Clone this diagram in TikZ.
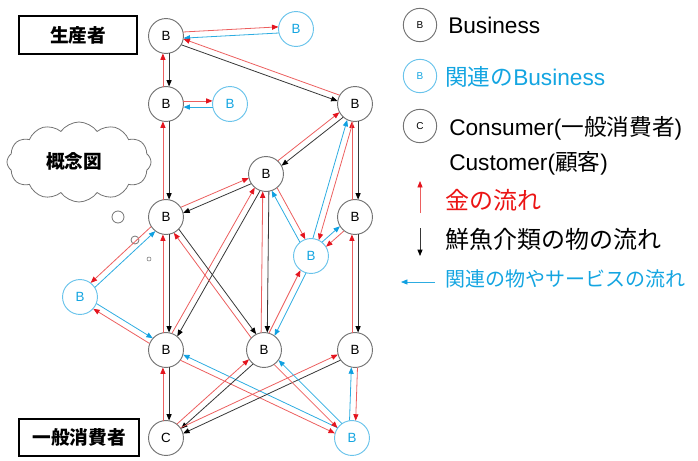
\documentclass[tikz,border=0pt]{standalone}
\usepackage{fontspec}
\setmainfont{Liberation Sans}
\newfontfamily\cjk{Noto Sans CJK JP}
\usetikzlibrary{calc,arrows.meta,shapes.symbols}
\definecolor{lred}{RGB}{236,95,95}
\definecolor{tred}{RGB}{228,20,30}
\definecolor{lcyan}{RGB}{45,172,225}
\definecolor{tcyan}{RGB}{15,160,225}
\definecolor{lblack}{RGB}{55,55,55}
\definecolor{cgray}{RGB}{115,115,115}
\definecolor{ccyan}{RGB}{105,195,235}
\definecolor{txtcyan}{RGB}{20,165,225}
\definecolor{txtred}{RGB}{235,20,20}
\tikzset{
  flowbase/.style={line width=0.6pt},
  redf/.style={flowbase, draw=lred, -{Triangle[length=4.8pt,width=3.8pt,color=tred]}},
  blackf/.style={flowbase, draw=lblack, -{Triangle[length=4.8pt,width=3.8pt,color=black]}},
  cyanf/.style={flowbase, draw=lcyan, -{Triangle[length=4.8pt,width=3.8pt,color=tcyan]}},
  bnode/.style={circle, draw=cgray, line width=0.7pt, fill=white, minimum size=26.2pt, inner sep=0pt, font=\fontsize{10}{10}\selectfont},
  rnode/.style={bnode, draw=ccyan, text=txtcyan},
  lgnode/.style={circle, draw=cgray, line width=0.7pt, minimum size=25pt, inner sep=0pt, font=\fontsize{7.5}{7.5}\selectfont},
  lbox/.style={draw=black, line width=1pt, inner sep=0pt, font=\cjk\bfseries\fontsize{14}{14}\selectfont},
  lgtext/.style={anchor=west, inner sep=0pt, font=\fontsize{17}{17}\selectfont},
  bubble/.style={circle, draw=cgray, line width=0.6pt, inner sep=0pt},
}
\newcommand\flow[4]{%
  \draw[#1] let \p1=(#2), \p2=(#3), \n1={atan2(\y2-\y1,\x2-\x1)} in
    ($(\p1)+({\n1+(#4)}:13.3pt)$) -- ($(\p2)+({\n1+180-(#4)}:13.3pt)$);}
\begin{document}
\begin{tikzpicture}[x=0.75pt,y=-0.75pt]
\useasboundingbox (0,0) rectangle (698,460);
% label boxes
\node[lbox, minimum width=88.5pt, minimum height=28.5pt] (prod) at (78,35) {生産者};
\node[lbox, minimum width=90pt, minimum height=27.8pt] (cons) at (79,437.5) {一般消費者};
% cloud
\node[cloud, cloud puffs=12, cloud puff arc=110, aspect=1.9, draw=cgray, line width=0.6pt,
      minimum width=108pt, minimum height=60pt, inner sep=0pt] (cl) at (79,162) {};
\node[inner sep=0pt, font=\cjk\bfseries\fontsize{14}{14}\selectfont] (clt) at (74,161) {概念図};
\node[bubble, minimum size=9pt] (bb1) at (118,217) {};
\node[bubble, minimum size=6pt] (bb2) at (135,240) {};
\node[bubble, minimum size=3pt, line width=0.4pt] (bb3) at (149,259) {};
% main nodes
\node[bnode] (B1) at (166,36) {B};
\node[rnode] (R1) at (296,29) {B};
\node[bnode] (B2) at (166,104) {B};
\node[rnode] (R2) at (230,104) {B};
\node[bnode] (B3) at (355,104) {B};
\node[bnode] (B4) at (266,174) {B};
\node[bnode] (B5) at (166,217) {B};
\node[bnode] (B6) at (355,217) {B};
\node[rnode] (R3) at (311,256) {B};
\node[rnode] (R4) at (80,297) {B};
\node[bnode] (B7) at (166,350) {B};
\node[bnode] (B8) at (264,350) {B};
\node[bnode] (B9) at (355,350) {B};
\node[bnode] (C) at (166,438) {C};
\node[rnode] (R5) at (352,438) {B};
% flows
\flow{redf}{B1}{R1}{10} \flow{cyanf}{R1}{B1}{10}
\flow{blackf}{B1}{B2}{10} \flow{redf}{B2}{B1}{10}
\flow{blackf}{B1}{B3}{-10} \flow{redf}{B3}{B1}{-10}
\flow{redf}{B2}{R2}{10} \flow{cyanf}{R2}{B2}{10}
\flow{blackf}{B2}{B5}{10} \flow{redf}{B5}{B2}{10}
\flow{blackf}{B3}{B4}{10} \flow{redf}{B4}{B3}{10}
\flow{blackf}{B3}{B6}{10} \flow{redf}{B6}{B3}{10}
\flow{cyanf}{R3}{B3}{10} \flow{redf}{B3}{R3}{10}
\flow{blackf}{B4}{B5}{10} \flow{redf}{B5}{B4}{10}
\flow{redf}{B4}{R3}{10} \flow{cyanf}{R3}{B4}{10}
\flow{blackf}{B4}{B7}{10} \flow{redf}{B7}{B4}{10}
\flow{blackf}{B4}{B8}{10} \flow{redf}{B8}{B4}{10}
\flow{blackf}{B5}{B7}{10} \flow{redf}{B7}{B5}{10}
\flow{blackf}{B5}{B8}{10} \flow{redf}{B8}{B5}{10}
\flow{redf}{B5}{R4}{-10} \flow{cyanf}{R4}{B5}{-10}
\flow{blackf}{B6}{B9}{10} \flow{redf}{B9}{B6}{10}
\flow{cyanf}{R3}{B6}{10} \flow{redf}{B6}{R3}{10}
\flow{redf}{B8}{R3}{10} \flow{cyanf}{R3}{B8}{10}
\flow{redf}{B7}{R4}{10} \flow{cyanf}{R4}{B7}{10}
\flow{blackf}{B7}{C}{10} \flow{redf}{C}{B7}{10}
\flow{redf}{B7}{R5}{-10} \flow{cyanf}{R5}{B7}{-10}
\flow{blackf}{B8}{C}{10} \flow{redf}{C}{B8}{10}
\flow{blackf}{B9}{C}{10} \flow{redf}{C}{B9}{10}
\flow{redf}{B8}{R5}{-10} \flow{cyanf}{R5}{B8}{-10}
\flow{cyanf}{R5}{B9}{10} \flow{redf}{B9}{R5}{10}
% legend
\node[lgnode] (L1) at (420,25) {B};
\node[lgtext] (L1t) at (448,25) {Business};
\node[lgnode, draw=ccyan, text=txtcyan] (L2) at (420,76) {B};
\node[lgtext, text=txtcyan] (L2t) at (445,77) {{\cjk 関連の}Business};
\node[lgnode] (L3) at (420,126) {C};
\node[lgtext] (L3t) at (449,128) {Consumer({\cjk 一般消費者})};
\node[lgtext] (L4t) at (449,163) {Customer({\cjk 顧客})};
\coordinate (a1s) at (420,213);
\coordinate (a1e) at (420,181);
\draw[redf] (a1s) -- (a1e);
\node[lgtext, text=txtred, font=\cjk\fontsize{18}{18}\selectfont] (L5t) at (445,200) {金の流れ};
\coordinate (a2s) at (420,228);
\coordinate (a2e) at (420,256);
\draw[blackf] (a2s) -- (a2e);
\node[lgtext, font=\cjk\fontsize{18}{18}\selectfont] (L6t) at (445,239) {鮮魚介類の物の流れ};
\coordinate (a3s) at (435,282);
\coordinate (a3e) at (401,282);
\draw[cyanf] (a3s) -- (a3e);
\node[lgtext, text=txtcyan, font=\cjk\fontsize{15}{15}\selectfont] (L7t) at (445,279) {関連の物やサービスの流れ};
\end{tikzpicture}
\end{document}
